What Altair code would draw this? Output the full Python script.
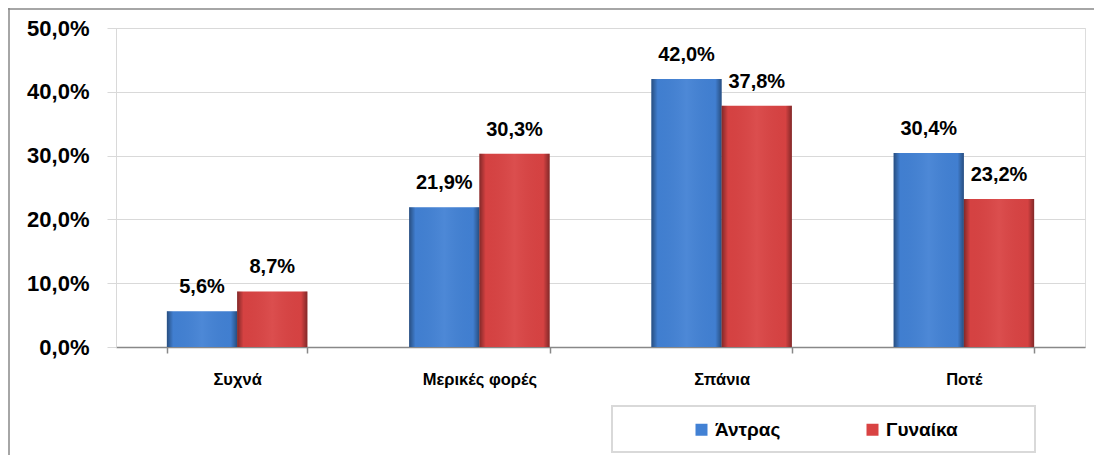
import altair as alt
import pandas as pd

categories = ["Συχνά", "Μερικές φορές", "Σπάνια", "Ποτέ"]
series = ["Άντρας", "Γυναίκα"]
men = [5.6, 21.9, 42.0, 30.4]
women = [8.7, 30.3, 37.8, 23.2]
y_ticks = [0, 10, 20, 30, 40, 50]
colors = ["#4281d4", "#d94343"]

rows = []
for i, c in enumerate(categories):
    rows.append({"cat": c, "series": series[0], "value": men[i]})
    rows.append({"cat": c, "series": series[1], "value": women[i]})
df = pd.DataFrame(rows)

W, H = 969, 319
FONT = "Liberation Sans"

x_enc = alt.X(
    "cat:N", sort=categories,
    scale=alt.Scale(paddingInner=0.42, paddingOuter=0.21),
    axis=alt.Axis(title=None, labelAngle=0, labelFontSize=16.5, labelFontWeight="bold",
                  labelColor="#000", labelFont=FONT, labelPadding=18, tickBand="extent",
                  tickSize=6, tickColor="#888888", tickWidth=1.5,
                  domainColor="#888888", domainWidth=1.5, grid=False),
)
xo = alt.XOffset("series:N", sort=series)
y_enc = alt.Y(
    "value:Q", scale=alt.Scale(domain=[0, 50]),
    axis=alt.Axis(title=None, values=y_ticks,
                  labelExpr="replace(format(datum.value, '.1f'), '.', ',') + '%'",
                  labelFontSize=22, labelFontWeight="bold", labelColor="#000", labelFont=FONT,
                  tickSize=9, tickColor="#d9d9d9", labelPadding=18,
                  domainColor="#d9d9d9", gridColor="#d9d9d9", grid=True),
)

base = alt.Chart(df)

bars = base.mark_bar().encode(
    x=x_enc, xOffset=xo, y=y_enc,
    color=alt.Color(
        "series:N", sort=series,
        scale=alt.Scale(domain=series, range=colors),
        legend=alt.Legend(title=None, orient="none", legendX=576, legendY=392,
                          direction="horizontal", symbolType="square", symbolSize=144,
                          symbolStrokeWidth=0, labelFontSize=19, labelFontWeight="bold",
                          labelColor="black", labelFont=FONT, columnPadding=82,
                          labelOffset=4, padding=0),
    ),
)

shade = base.mark_bar(
    fill={"gradient": "linear", "x1": 0, "x2": 1, "y1": 0, "y2": 0,
          "stops": [{"offset": 0, "color": "rgba(0,0,0,0.4)"},
                    {"offset": 0.09, "color": "rgba(0,0,0,0.02)"},
                    {"offset": 0.5, "color": "rgba(255,255,255,0.06)"},
                    {"offset": 0.91, "color": "rgba(0,0,0,0.02)"},
                    {"offset": 1, "color": "rgba(0,0,0,0.4)"}]}
).encode(x=x_enc, xOffset=xo, y=y_enc)

labels = base.transform_calculate(
    label="replace(format(datum.value, '.1f'), '.', ',') + '%'"
).mark_text(fontSize=20, fontWeight="bold", baseline="alphabetic", dy=-18,
            font=FONT, color="black").encode(
    x=x_enc, xOffset=xo, y=y_enc, text="label:N"
)

one = pd.DataFrame({"k": [0]})
frame_left = alt.Chart(one).mark_rule(color="#888888", strokeWidth=1.5).encode(
    x=alt.value(-107), y=alt.value(-20), y2=alt.value(430))
frame_top = alt.Chart(one).mark_rule(color="#888888", strokeWidth=1.5).encode(
    y=alt.value(-19), x=alt.value(-108), x2=alt.value(980))
legend_box = alt.Chart(one).mark_rect(fill="transparent", stroke="#d9d9d9", strokeWidth=2).encode(
    x=alt.value(496), x2=alt.value(919), y=alt.value(378), y2=alt.value(424))

chart = alt.layer(bars, shade, labels, frame_left, frame_top, legend_box).properties(
    width=W, height=H,
    padding={"left": 108, "top": 20, "right": 9, "bottom": 108},
    autosize=alt.AutoSizeParams(type="none"),
).configure_view(stroke=None).configure(font=FONT)

chart.save("out.html", embed_options={"renderer": "svg", "actions": False})
